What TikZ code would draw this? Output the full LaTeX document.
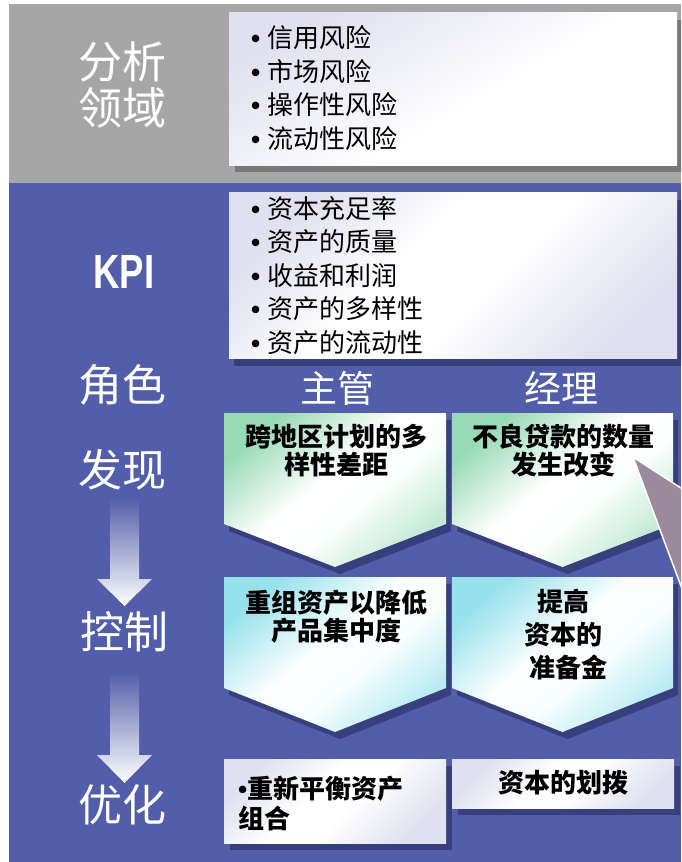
\documentclass[tikz,border=0pt]{standalone}
\usepackage{fontspec}
\setmainfont{Noto Sans CJK SC}
\newfontfamily\kpifont{Liberation Sans}
\newcommand{\bul}{{\kpifont\bfseries •}}
\definecolor{graybg}{HTML}{A6A6A6}
\definecolor{grayshadow}{HTML}{787878}
\definecolor{bluebg}{HTML}{525EA9}
\definecolor{blueshadow}{HTML}{383F7D}
\definecolor{lav}{HTML}{E0E0F0}
\definecolor{mint}{HTML}{98DAB6}
\definecolor{aqua}{HTML}{98E2EC}
\definecolor{wedgec}{HTML}{9B8A9D}
\pgfdeclareverticalshading{whitesh}{100bp}{color(0bp)=(lav); color(25bp)=(lav); color(45bp)=(white); color(57bp)=(white); color(75bp)=(lav); color(100bp)=(lav)}
\pgfdeclareverticalshading{topsh}{100bp}{color(0bp)=(lav); color(25bp)=(lav); color(55bp)=(white); color(100bp)=(white)}
\pgfdeclareverticalshading{greensh}{100bp}{color(0bp)=(mint!60!white); color(25bp)=(mint!60!white); color(42bp)=(white!96!mint); color(54bp)=(white); color(75bp)=(mint); color(100bp)=(mint)}
\pgfdeclareverticalshading{aquash}{100bp}{color(0bp)=(aqua!70!white); color(25bp)=(aqua!70!white); color(42bp)=(white!94!aqua); color(54bp)=(white!97!aqua); color(75bp)=(aqua); color(100bp)=(aqua)}
\tikzset{
  lbl/.style={text=white, font=\fontsize{44}{46}\selectfont, align=center, inner sep=0pt},
  role/.style={text=white, font=\fontsize{37}{40}\selectfont, inner sep=0pt},
  listtxt/.style={text=black, font=\fontsize{26}{33.5}\selectfont, align=left, anchor=west, inner sep=0pt},
  boxtxt/.style={text=black, font=\bfseries\fontsize{26}{28}\selectfont, align=center, inner sep=0pt},
  whitebox/.style={shading=whitesh, shading angle=45},
  greenbox/.style={shading=greensh, shading angle=40},
  aquabox/.style={shading=aquash, shading angle=40},
  downarrow/.style={top color=bluebg, bottom color=white, shading angle=0},
}
\begin{document}
\begin{tikzpicture}[x=1pt,y=-1pt]
\useasboundingbox (0,0) rectangle (681,862);
\begin{scope}
\clip (0,0) rectangle (681,862);
% backgrounds
\fill[graybg] (9,4) rectangle (681,183.5);
\fill[bluebg] (9,183) rectangle (681,862);
% top box
\fill[grayshadow] (235,20) rectangle (684,172);
\shade[shading=topsh, shading angle=210] (229,12) rectangle (677,165);
% KPI box
\fill[blueshadow] (234,200) rectangle (684,366);
\shade[whitebox] (229,192) rectangle (677,358);
% chevrons row 1
\fill[blueshadow] (229,420) -- (451,420) -- (451,531) -- (340,574) -- (229,531) -- cycle;
\fill[blueshadow] (457,420) -- (678,420) -- (678,531) -- (567.5,574) -- (457,531) -- cycle;
\shade[greenbox] (224,413) -- (446,413) -- (446,524) -- (335,567) -- (224,524) -- cycle;
\shade[greenbox] (452,413) -- (673,413) -- (673,524) -- (562.5,567) -- (452,524) -- cycle;
% chevrons row 2
\fill[blueshadow] (229,584) -- (451,584) -- (451,695) -- (340,739) -- (229,695) -- cycle;
\fill[blueshadow] (457,584) -- (678,584) -- (678,695) -- (567.5,739) -- (457,695) -- cycle;
\shade[aquabox] (224,577) -- (446,577) -- (446,688) -- (335,732) -- (224,688) -- cycle;
\shade[aquabox] (452,577) -- (673,577) -- (673,688) -- (562.5,732) -- (452,688) -- cycle;
% bottom boxes
\fill[blueshadow] (230,766) rectangle (452,850);
\fill[blueshadow] (458,766) rectangle (680,815);
\shade[whitebox] (224,759) rectangle (446,843);
\shade[whitebox] (452,759) rectangle (674,808);
% left arrows
\shade[downarrow] (110,498) -- (139,498) -- (139,579) -- (152,579) -- (124.5,606) -- (97,579) -- (110,579) -- cycle;
\shade[downarrow] (110,672) -- (139,672) -- (139,755) -- (152,755) -- (124.5,783) -- (97,755) -- (110,755) -- cycle;
\end{scope}
% left labels
\node[lbl] (fx) at (122,85) {分析\\领域};
\node[lbl, text=white, font=\kpifont\bfseries\fontsize{48}{50}\selectfont] (kpi) at (124,272) {\scalebox{0.76}[1]{KPI}};
\node[lbl] (js) at (122,385) {角色};
\node[lbl] (fxn) at (122,470) {发现};
\node[lbl] (kz) at (124,632) {控制};
\node[lbl] (yh) at (122,805) {优化};
% roles
\node[role] (zg) at (337,388) {主管};
\node[role] (jl) at (561,388) {经理};
% lists
\node[listtxt] (l1) at (251,88) {\bul\hspace{7pt}信用风险\\\bul\hspace{7pt}市场风险\\\bul\hspace{7pt}操作性风险\\\bul\hspace{7pt}流动性风险};
\node[listtxt] (l2) at (251,275.5) {\bul\hspace{7pt}资本充足率\\\bul\hspace{7pt}资产的质量\\\bul\hspace{7pt}收益和利润\\\bul\hspace{7pt}资产的多样性\\\bul\hspace{7pt}资产的流动性};
% chevron texts
\node[boxtxt] (c1) at (336,451) {跨地区计划的多\\样性差距};
\node[boxtxt] (c2) at (563,451) {不良贷款的数量\\发生改变};
\node[boxtxt] (c3) at (336,616.5) {重组资产以降低\\产品集中度};
\node[boxtxt, font=\bfseries\fontsize{26}{33}\selectfont] (c4) at (563,635) {提高\\资本的\\\hspace{10pt}准备金};
\node[boxtxt, align=left, anchor=west, font=\bfseries\fontsize{26}{30}\selectfont] (b1) at (238,803) {\bul 重新平衡资产\\组合};
\node[boxtxt] (b2) at (563,783) {资本的划拨};
% wedge
\begin{scope}
\clip (0,0) rectangle (681,862);
\filldraw[fill=wedgec, draw=white, line width=1.5pt] (633,457) -- (684,490) -- (684,594) .. controls (660,530) .. (633,457) -- cycle;
\end{scope}
\end{tikzpicture}
\end{document}
